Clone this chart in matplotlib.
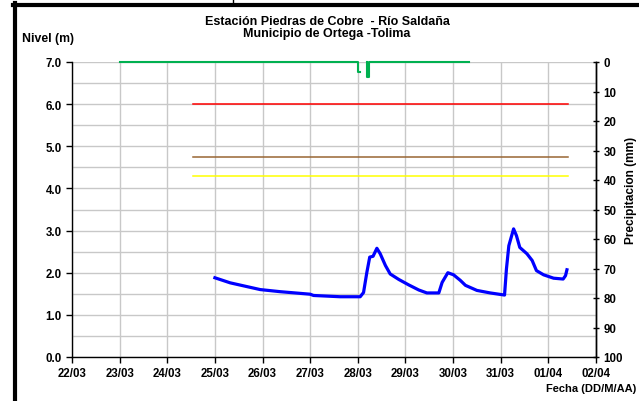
import matplotlib
matplotlib.use('Agg')
import matplotlib.pyplot as plt
from matplotlib.lines import Line2D
import numpy as np

plt.rcParams['font.family'] = ['Liberation Sans', 'DejaVu Sans']
plt.rcParams['font.weight'] = 'bold'

# dias desde 22/03
DATE_LABELS = ['22/03', '23/03', '24/03', '25/03', '26/03', '27/03',
               '28/03', '29/03', '30/03', '31/03', '01/04', '02/04']

NIVEL_T = [3.00, 3.32, 3.95, 4.37, 5.00, 5.07, 5.63, 5.98, 6.05, 6.12, 6.19,
           6.25, 6.32, 6.40, 6.47, 6.58, 6.68, 6.86, 7.07, 7.28, 7.45, 7.70,
           7.77, 7.89, 8.01, 8.15, 8.26, 8.50, 8.78, 9.08, 9.12, 9.17, 9.27,
           9.33, 9.40, 9.55, 9.66, 9.75, 9.90, 10.11, 10.31, 10.36, 10.39]
NIVEL = [1.88, 1.76, 1.60, 1.55, 1.49, 1.46, 1.43, 1.43, 1.43, 1.53, 2.01,
         2.37, 2.39, 2.58, 2.45, 2.17, 1.97, 1.84, 1.71, 1.59, 1.52, 1.52,
         1.77, 2.00, 1.95, 1.82, 1.70, 1.58, 1.52, 1.47, 2.09, 2.64, 3.04,
         2.88, 2.60, 2.45, 2.29, 2.05, 1.95, 1.87, 1.85, 1.93, 2.07]

PRECIP_T = [1.00, 6.00, 6.00, 6.04, np.nan, 6.20, 6.20, 6.24, 6.24, 8.33]
PRECIP = [0, 0, 3.3, 3.3, np.nan, 0, 5.2, 5.2, 0, 0]

# umbrales (m): roja, cafe, amarilla
UMBRAL_T = [2.54, 10.42]
UMBRALES = [6.0, 4.75, 4.3]
UMBRAL_COLORS = ['#ff0000', '#996633', '#ffff00']

fig = plt.figure(figsize=(6.39, 4.02), dpi=100)
ax = fig.add_axes([72/639, 1 - 358/402, 524/639, 295/402])

for nivel, c in zip(UMBRALES, UMBRAL_COLORS):
    ax.plot(UMBRAL_T, [nivel, nivel], color=c, lw=1.1, zorder=3)
ax.plot(NIVEL_T, NIVEL, color='#0000ff', lw=2.3, zorder=4)

ax.set_xlim(0, 11)
ax.set_ylim(0, 7)
ax.set_xticks(np.arange(len(DATE_LABELS)))
ax.set_xticklabels(DATE_LABELS)
ax.set_yticks(np.arange(0, 8))
ax.set_yticklabels(['%.1f' % v for v in range(8)])
ax.set_yticks(np.arange(0, 7.01, 0.5), minor=True)
ax.tick_params(axis='y', which='minor', length=0)
ax.tick_params(axis='both', which='major', labelsize=8.3, length=4,
               width=1, color='black')
ax.grid(True, which='both', color='#c8c8c8', lw=1)
ax.set_axisbelow(True)
ax.spines['top'].set_visible(False)
for s in ['left', 'bottom', 'right']:
    ax.spines[s].set_color('black')
    ax.spines[s].set_linewidth(1)

ax2 = ax.twinx()
ax2.plot(PRECIP_T, PRECIP, color='#00b050', lw=1.5, zorder=5, clip_on=False)
ax2.set_ylim(100, 0)
ax2.set_yticks(np.arange(0, 101, 10))
ax2.tick_params(axis='y', labelsize=8.3, length=4, direction='inout', width=1)
for s in ['top', 'left', 'bottom']:
    ax2.spines[s].set_visible(False)
ax2.spines['right'].set_linewidth(1)

fig.text(327/639, 1 - 22/402, 'Estación Piedras de Cobre  - Río Saldaña',
         ha='center', va='center', fontsize=9, fontweight='bold')
fig.text(327/639, 1 - 34/402, 'Municipio de Ortega -Tolima',
         ha='center', va='center', fontsize=9, fontweight='bold')
fig.text(22/639, 1 - 39/402, 'Nivel (m)', ha='left', va='center',
         fontsize=8.8, fontweight='bold')
fig.text(631/639, 1 - 190/402, 'Precipitacion (mm)', ha='center',
         va='center', rotation=90, fontsize=8.6, fontweight='bold')
fig.text(636/639, 1 - 389/402, 'Fecha (DD/M/AA)', ha='right', va='center',
         fontsize=8, fontweight='bold')

# marco del recorte
fig.add_artist(Line2D([14.5/639, 14.5/639], [0, 1 - 4/402], color='black',
                      lw=3, transform=fig.transFigure))
fig.add_artist(Line2D([13/639, 1], [1 - 6/402, 1 - 6/402], color='black',
                      lw=3, transform=fig.transFigure))
fig.add_artist(Line2D([233/639, 233/639], [1 - 5/402, 1], color='black',
                      lw=1, transform=fig.transFigure))

fig.savefig('out.png', dpi=100)
